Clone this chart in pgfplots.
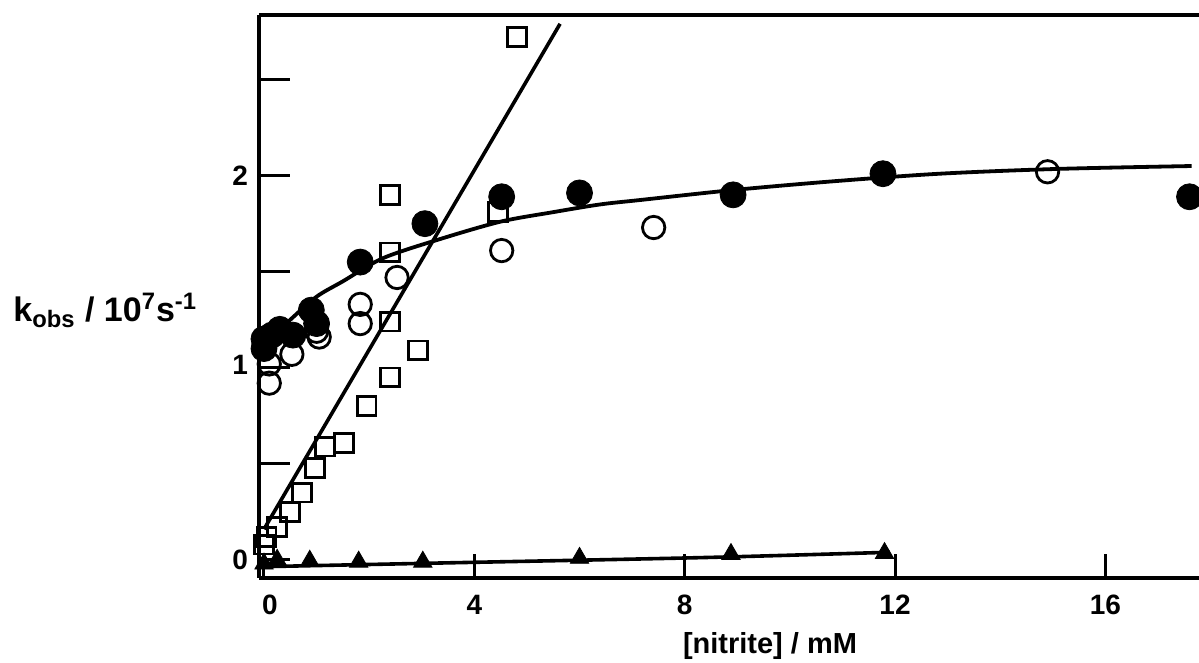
\documentclass[border=0pt]{standalone}
\usepackage{fontspec}
\setmainfont{Liberation Sans}
\usepackage{pgfplots}
\pgfplotsset{compat=1.18}
\begin{document}
\begin{tikzpicture}
\begin{axis}[
  scale only axis, width=470pt, height=281.5pt,
  xmin=-0.095, xmax=17.78, ymin=-0.094, ymax=2.836,
  axis x line*=bottom, axis y line*=left,
  axis line style={line width=1.8pt},
  tick align=inside,
  xtick={4,8,12,16}, xticklabels={4,8,12,16},
  extra x ticks={0}, extra x tick labels={0},
  extra x tick style={/pgfplots/major tick length=0pt, /pgfplots/xticklabel style={xshift=3pt}},
  ytick={0,0.5,1,1.5,2,2.5},
  yticklabels={\raisebox{-5pt}{0},,\raisebox{3pt}{1},,\raisebox{-3pt}{2},},
  xtick style={line width=1.5pt, /pgfplots/major tick length=12pt, black},
  ytick style={line width=1.5pt, /pgfplots/major tick length=15.5pt, black},
  tick label style={font=\fontsize{14}{14}\selectfont\bfseries},
  xticklabel style={yshift=-5pt},
  yticklabel style={xshift=-2pt},
]
\coordinate (BL) at (rel axis cs:0,0);
\coordinate (TL) at (rel axis cs:0,1);
\coordinate (TR) at (rel axis cs:1,1);
% fitted curves
\addplot[black, line width=1.9pt, smooth] coordinates {
 (0,1.12) (0.5,1.25) (1.0,1.37) (1.5,1.45) (2.26,1.57) (3.29,1.665) (4.49,1.76)
 (5.5,1.81) (6.39,1.85) (7.15,1.873) (8.92,1.925) (10.8,1.97) (12.85,2.01)
 (15.1,2.035) (17.64,2.05)};
\addplot[black, line width=1.8pt] coordinates {(0,0.16) (5.63,2.79)};
\addplot[black, line width=1.8pt, smooth] coordinates {
 (0,-0.035) (3.35,-0.016) (8.3,0.012) (11.9,0.04)};
% open circles
\addplot[only marks, mark=o, mark size=5.6pt, mark options={line width=1.4pt, black}] coordinates {
 (0.1,1.02) (0.1,0.92) (0.53,1.07) (1.0,1.19) (1.05,1.16) (1.83,1.33) (1.83,1.23)
 (2.53,1.47) (4.52,1.61) (7.41,1.73) (14.9,2.02)};
% open squares
\addplot[only marks, mark=square, mark size=4.7pt, mark options={line width=1.4pt, black}] coordinates {
 (0.0,0.08) (0.05,0.12) (0.25,0.17) (0.49,0.25) (0.72,0.35) (0.97,0.48) (1.16,0.59)
 (1.52,0.61) (1.95,0.80) (2.4,0.95) (2.93,1.09) (2.4,1.24) (2.4,1.60) (2.4,1.90)
 (4.45,1.81) (4.81,2.72)};
% filled circles
\addplot[only marks, mark=*, mark size=6.5pt, mark options={black, fill=black}] coordinates {
 (0.0,1.10) (0.0,1.15) (0.15,1.17) (0.3,1.20) (0.55,1.17) (0.9,1.30) (1.0,1.23)
 (1.83,1.55) (3.06,1.75) (4.52,1.89) (6.0,1.91) (8.92,1.90) (11.77,2.01) (17.6,1.89)};
% filled triangles
\addplot[only marks, mark=triangle*, mark size=5.3pt, mark options={black, fill=black}] coordinates {
 (0.0,-0.02) (0.25,0.0) (0.87,-0.005) (1.8,-0.01) (3.02,-0.01) (6.0,0.01) (8.88,0.03) (11.8,0.035)};
\end{axis}
\draw[line width=1.8pt] (TL) -- (TR);
\node[anchor=base west, font=\fontsize{17}{17}\selectfont\bfseries, inner sep=0pt]
  at ([xshift=-123pt,yshift=128pt]BL) {k\textsubscript{obs} / 10\textsuperscript{7}s\textsuperscript{-1}};
\node[anchor=center, font=\fontsize{14.5}{14.5}\selectfont\bfseries, inner sep=0pt]
  at ([xshift=255.5pt,yshift=-34pt]BL) {[nitrite] / mM};
\pgfresetboundingbox
\path[use as bounding box] ([xshift=-129.5pt,yshift=-42.5pt]BL) rectangle ([yshift=7.5pt]TR);
\end{tikzpicture}
\end{document}
